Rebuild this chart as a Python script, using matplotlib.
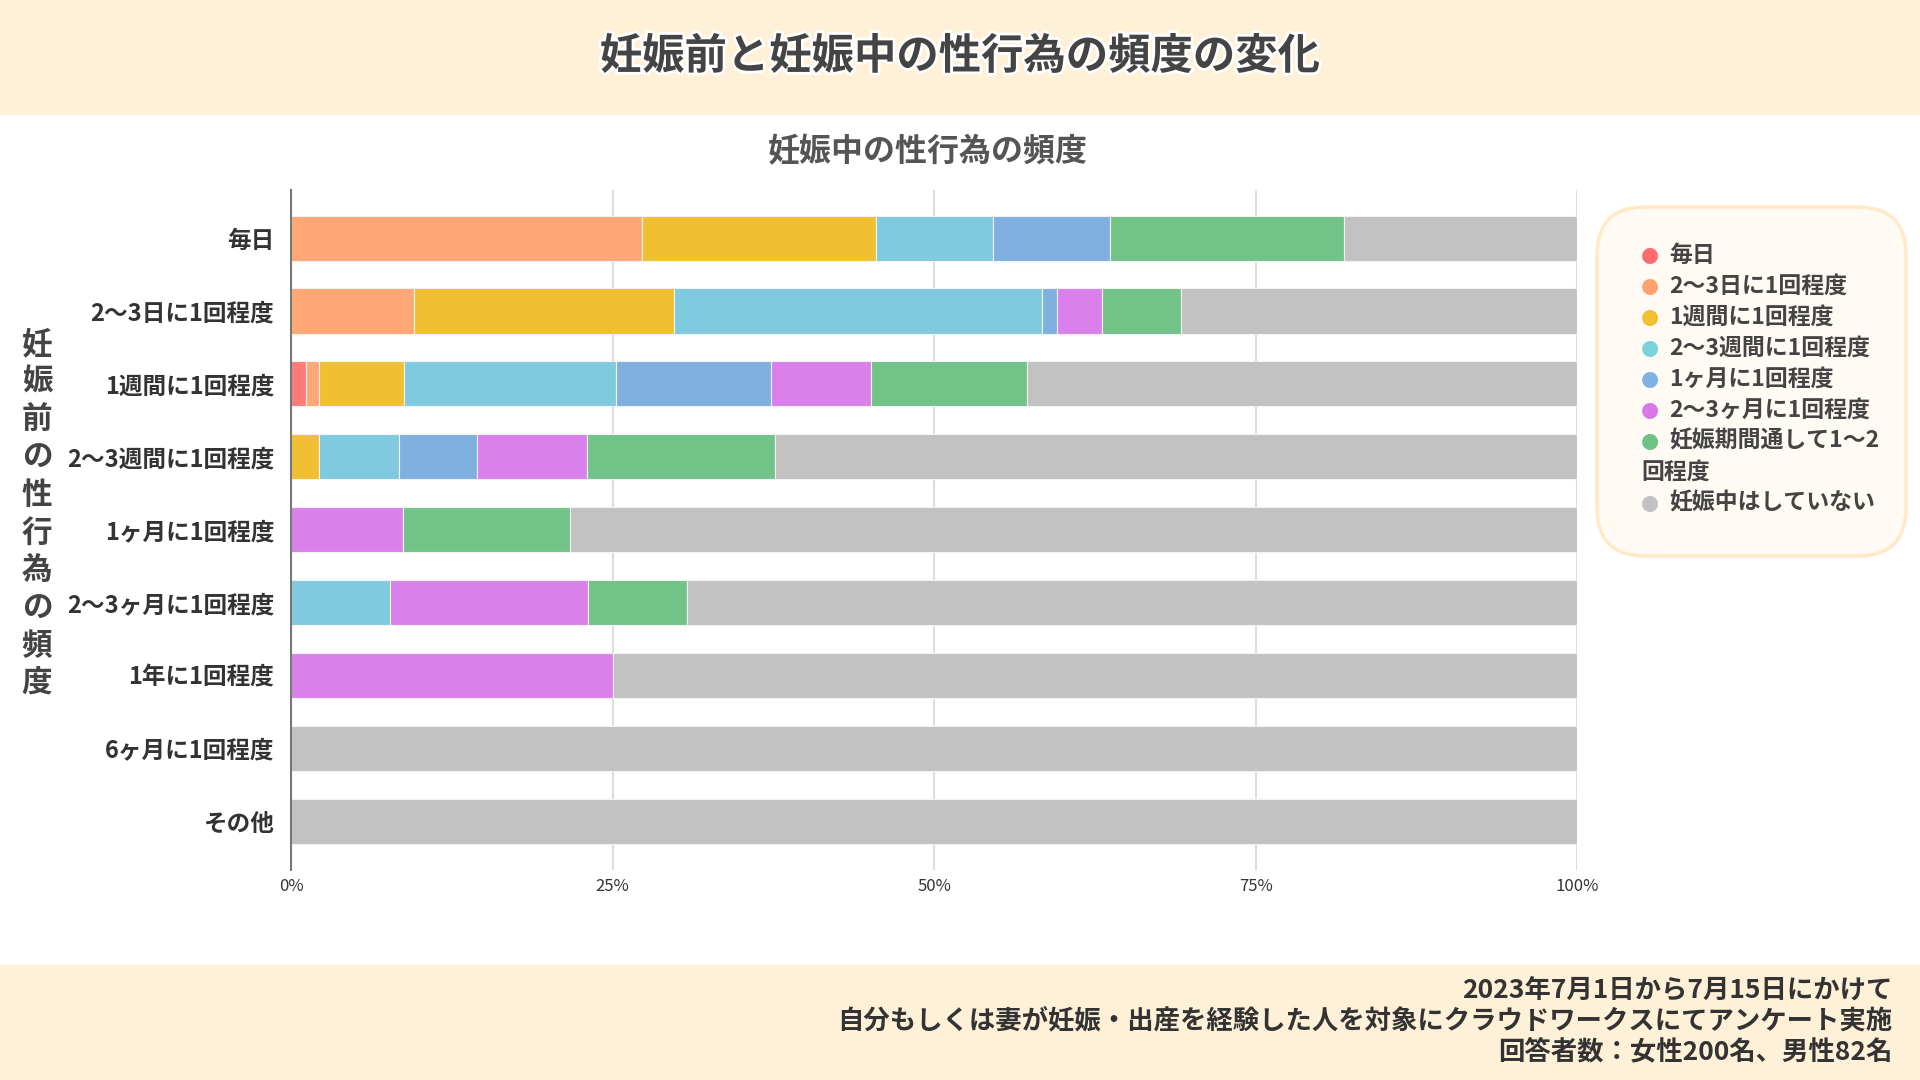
import matplotlib.pyplot as plt
import matplotlib.patheffects as pe
from matplotlib.patches import FancyBboxPatch, Rectangle
from matplotlib.ticker import FuncFormatter

plt.rcParams['font.family'] = ['Noto Sans CJK JP', 'DejaVu Sans']

# 妊娠前の頻度 (rows)
before = ['毎日', '2〜3日に1回程度', '1週間に1回程度', '2〜3週間に1回程度', '1ヶ月に1回程度',
          '2〜3ヶ月に1回程度', '1年に1回程度', '6ヶ月に1回程度', 'その他']

# 妊娠中の頻度 (series), percent of each row
series = ['毎日', '2〜3日に1回程度', '1週間に1回程度', '2〜3週間に1回程度', '1ヶ月に1回程度',
          '2〜3ヶ月に1回程度', '妊娠期間通して1〜2回程度', '妊娠中はしていない']
s_daily   = [0,     0,    1.2,  0,    0,    0,    0,  0,   0]
s_2_3days = [27.3,  9.6,  1.0,  0,    0,    0,    0,  0,   0]
s_week    = [18.2, 20.2,  6.6,  2.2,  0,    0,    0,  0,   0]
s_2_3week = [9.1,  28.6, 16.5,  6.2,  0,    7.7,  0,  0,   0]
s_month   = [9.1,   1.2, 12.0,  6.1,  0,    0,    0,  0,   0]
s_2_3mon  = [0,     3.5,  7.8,  8.5,  8.7, 15.4, 25,  0,   0]
s_once    = [18.2,  6.1, 12.1, 14.6, 13.0,  7.7,  0,  0,   0]
s_none    = [18.1, 30.8, 42.8, 62.4, 78.3, 69.2, 75, 100, 100]
values = [s_daily, s_2_3days, s_week, s_2_3week, s_month, s_2_3mon, s_once, s_none]

bar_colors = ['#FF7A7A', '#FFA875', '#F0C032', '#80CAE0', '#80B0E0', '#DA80EA', '#72C387', '#C3C2C3']
legend_colors = ['#FF6B70', '#FFA36E', '#F0C032', '#7BD3DA', '#80B3E3', '#DA78EA', '#6CC383', '#C3C2C3']

fig = plt.figure(figsize=(19.2, 10.8), dpi=100)

# header / footer bands
fig.patches.append(Rectangle((0, 1 - 114 / 1080), 1, 114 / 1080, transform=fig.transFigure,
                             color='#FFF0D8', zorder=0))
fig.patches.append(Rectangle((0, 0), 1, 115 / 1080, transform=fig.transFigure,
                             color='#FFF0D8', zorder=0))

fig.text(0.5, 1 - 57 / 1080, '妊娠前と妊娠中の性行為の頻度の変化', ha='center', va='center',
         fontsize=30.5, fontweight='bold', color='#444444',
         path_effects=[pe.withStroke(linewidth=4, foreground='white')])
fig.text(928 / 1920, 1 - 152 / 1080, '妊娠中の性行為の頻度', ha='center', va='center',
         fontsize=23, fontweight='bold', color='#555555')

ax = fig.add_axes([291 / 1920, 1 - 870 / 1080, (1577 - 291) / 1920, 680 / 1080])
left = [0] * len(before)
for vals, col in zip(values, bar_colors):
    ax.barh(range(len(before)), vals, left=left, height=0.62, color=col,
            edgecolor='#F2F2F2', linewidth=0.8, zorder=2)
    left = [a + b for a, b in zip(left, vals)]

ax.set_xlim(0, 100)
ax.set_ylim(8.67, -0.66)
ax.set_yticks(range(len(before)))
ax.set_yticklabels(before, fontsize=17, fontweight='bold', color='#333333')
ax.set_xticks([0, 25, 50, 75, 100])
ax.xaxis.set_major_formatter(FuncFormatter(lambda v, p: f'{v:.0f}%'))
ax.tick_params(axis='x', labelsize=12, length=0, pad=6, colors='#333333')
ax.tick_params(axis='y', length=0, pad=12)
ax.grid(axis='x', color='#DDDDDD', linewidth=1.5, zorder=0)
for s in ['top', 'right', 'bottom']:
    ax.spines[s].set_visible(False)
ax.spines['left'].set_color('#777777')
ax.spines['left'].set_linewidth(1.5)

# vertical y-axis title
ylabel = '妊娠前の性行為の頻度'
fig.text(37 / 1920, 1 - 514 / 1080, '\n'.join(ylabel), ha='center', va='center',
         fontsize=22, fontweight='bold', color='#444444', linespacing=1.23)

# legend box
fig.patches.append(FancyBboxPatch((1597 / 1920, 1 - 556 / 1080), 309 / 1920, 349 / 1080,
                                  boxstyle='round,pad=0,rounding_size=0.025',
                                  transform=fig.transFigure, facecolor='#FFFBF4',
                                  edgecolor='#FFE9C6', linewidth=2.5, zorder=1,
                                  mutation_aspect=1.78))
y = 255
for name, col in zip(series, legend_colors):
    fig.text(1650 / 1920, 1 - y / 1080, '●', ha='center', va='center', fontsize=15, color=col,
             family=['DejaVu Sans'])
    if name == '妊娠期間通して1〜2回程度':
        fig.text(1669 / 1920, 1 - y / 1080, '妊娠期間通して1〜2', ha='left', va='center',
                 fontsize=16.5, fontweight='bold', color='#444444')
        y += 31
        fig.text(1641 / 1920, 1 - y / 1080, '回程度', ha='left', va='center',
                 fontsize=16.5, fontweight='bold', color='#444444')
    else:
        fig.text(1669 / 1920, 1 - y / 1080, name, ha='left', va='center',
                 fontsize=16.5, fontweight='bold', color='#444444')
    y += 31

# footer notes
notes = ['2023年7月1日から7月15日にかけて',
         '自分もしくは妻が妊娠・出産を経験した人を対象にクラウドワークスにてアンケート実施',
         '回答者数：女性200名、男性82名']
for i, line in enumerate(notes):
    fig.text(1892 / 1920, 1 - (990 + 31 * i) / 1080, line, ha='right', va='center',
             fontsize=19, fontweight='bold', color='#333333')

fig.savefig('out.png', dpi=100)
